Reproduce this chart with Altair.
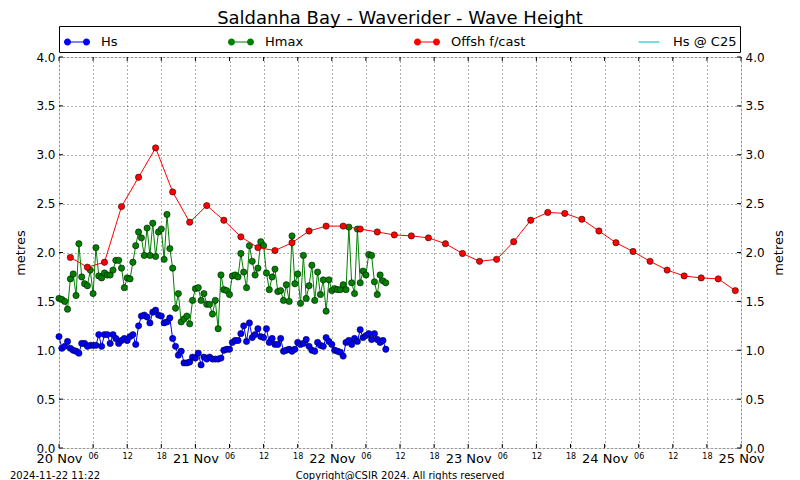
import altair as alt
import pandas as pd

# ---------------- text ----------------
TITLE = "Saldanha Bay - Waverider - Wave Height"
STAMP = "2024-11-22 11:22"
COPYRIGHT = "Copyright@CSIR 2024. All rights reserved"
Y_TITLE = "metres"

# ---------------- time base ----------------
OBS_START = "2024-11-20 00:00"
OBS_STEP = "30min"
FC_START = "2024-11-20 02:00"
FC_STEP = "3h"

# ---------------- observed series (metres) ----------------
HS = [
    1.14, 1.02, 1.04, 1.09, 1.02, 1.00, 0.99, 0.97, 1.07, 1.07, 1.04, 1.05, 1.05, 1.05,
    1.16, 1.04, 1.16, 1.16, 1.07, 1.16, 1.12, 1.07, 1.10, 1.12, 1.10, 1.14, 1.16, 1.06,
    1.25, 1.35, 1.36, 1.34, 1.28, 1.39, 1.41, 1.36, 1.35, 1.28, 1.29, 1.33, 1.12, 1.04,
    0.95, 0.99, 0.87, 0.87, 0.88, 0.93, 0.92, 0.97, 0.85, 0.93, 0.91, 0.93, 0.91, 0.91, 0.91,
    0.92, 1.00, 1.01, 1.01, 1.08, 1.10, 1.10, 1.17, 1.25, 1.09, 1.28, 1.13, 1.16, 1.22,
    1.14, 1.13, 1.22, 1.08, 1.12, 1.06, 1.06, 1.12, 0.99, 1.00, 1.01, 0.99, 1.01, 1.08, 1.06,
    1.07, 1.11, 1.04, 1.00, 0.99, 1.08, 1.05, 1.04, 1.13, 1.09, 1.06, 1.00, 0.99, 0.98, 0.94,
    1.08, 1.10, 1.06, 1.12, 1.09, 1.21, 1.13, 1.15, 1.17, 1.11, 1.17, 1.11, 1.08, 1.10, 1.01,
]
HMAX = [
    1.53, 1.52, 1.50, 1.42, 1.73, 1.78, 1.56, 2.09, 1.75, 1.68, 1.66, 1.82, 1.58, 2.05,
    1.76, 1.74, 1.79, 1.77, 1.77, 1.82, 1.92, 1.92, 1.84, 1.64, 1.74, 1.73, 1.90, 2.07,
    2.21, 2.15, 1.97, 2.25, 1.97, 2.30, 1.96, 2.21, 2.24, 1.93, 2.39, 2.04, 1.84, 1.43,
    1.58, 1.29, 1.32, 1.35, 1.27, 1.51, 1.63, 1.64, 1.51, 1.58, 1.47, 1.47, 1.37, 1.51, 1.22,
    1.77, 1.62, 1.61, 1.57, 1.76, 1.77, 1.75, 1.99, 1.80, 1.64, 2.07, 1.91, 1.77, 1.84,
    2.11, 2.07, 1.79, 1.62, 1.75, 1.83, 1.60, 1.61, 1.51, 1.67, 1.50, 2.17, 1.68, 1.78, 1.48,
    1.97, 1.53, 1.66, 1.87, 1.51, 1.80, 1.57, 1.72, 1.40, 1.72, 1.61, 1.63, 1.62, 1.62, 1.67,
    1.62, 2.26, 1.69, 1.58, 2.24, 1.69, 1.81, 1.77, 1.98, 1.97, 1.70, 1.57, 1.77, 1.71, 1.69,
]

# ---------------- offshore forecast (3-hourly) ----------------
FCAST = [
    1.95, 1.85, 1.90, 2.47, 2.77, 3.07, 2.62, 2.31, 2.48, 2.33,
    2.16, 2.05, 2.02, 2.10, 2.22, 2.27, 2.27, 2.24, 2.21, 2.18,
    2.17, 2.15, 2.09, 1.99, 1.91, 1.93, 2.11, 2.33, 2.41, 2.40,
    2.34, 2.22, 2.10, 2.01, 1.91, 1.82, 1.76, 1.74, 1.73, 1.61,
]

# ---------------- legend / axes ----------------
SERIES = ["Hs", "Hmax", "Offsh f/cast", "Hs @ C25"]
COLORS = ["#0000ff", "#008000", "#ff0000", "#00bfbf"]
DAY_LABELS = ["20 Nov", "21 Nov", "22 Nov", "23 Nov", "24 Nov", "25 Nov"]
HOUR_LABELS = ["06", "12", "18"]
X_TICKS_H = list(range(0, 121, 6))
Y_TICKS = [0.0, 0.5, 1.0, 1.5, 2.0, 2.5, 3.0, 3.5, 4.0]

W, H = 682, 391
FONT = "DejaVu Sans"

# ---------------- tables ----------------
t0 = pd.Timestamp(OBS_START)
obs_t = pd.date_range(OBS_START, periods=len(HS), freq=OBS_STEP)
obs = pd.DataFrame({
    "hour": (obs_t - t0) / pd.Timedelta(hours=1),
    "Hs": HS,
    "Hmax": HMAX,
})
fc_t = pd.date_range(FC_START, periods=len(FCAST), freq=FC_STEP)
fc = pd.DataFrame({"hour": (fc_t - t0) / pd.Timedelta(hours=1), "value": FCAST})

xs = alt.Scale(domain=[0, 120], nice=False, zero=False)
ys = alt.Scale(domain=[0, 4], nice=False, zero=False)

day_js = "[" + ",".join(repr(d) for d in DAY_LABELS) + "]"
hr_js = "[" + ",".join(repr(h) for h in [""] + HOUR_LABELS) + "]"
label_expr = (
    f"datum.value % 24 == 0 ? {day_js}[datum.value / 24] : {hr_js}[(datum.value % 24) / 6]"
)

x_axis = alt.Axis(
    values=X_TICKS_H, labelExpr=label_expr,
    labelFontSize={"condition": {"test": "datum.value % 24 == 0", "value": 13}, "value": 8},
    labelFont=FONT, labelColor="black", labelPadding=4, labelFlush=False,
    labelOverlap=False, labelBaseline="top", tickSize=0, domain=False,
    grid=True, gridColor="black", gridDash=[1, 3], gridWidth=0.8, gridOpacity=0.8,
    title=None,
)


def y_axis(orient, grid, pad):
    return alt.Axis(
        orient=orient, values=Y_TICKS, format=".1f", labelFont=FONT, labelFontSize=12,
        labelColor="black", labelPadding=4, tickSize=0, domain=False,
        grid=grid, gridColor="black", gridDash=[1, 3], gridWidth=0.8, gridOpacity=0.8,
        title=Y_TITLE, titleFont=FONT, titleFontSize=13, titleFontWeight="normal",
        titleColor="black", titlePadding=pad, titleAngle=270,
    )


X = alt.X("hour:Q", scale=xs, axis=x_axis)

base_obs = alt.Chart(obs)
hs_line = base_obs.mark_line(color=COLORS[0], strokeWidth=1).encode(
    x=X, y=alt.Y("Hs:Q", scale=ys, axis=y_axis("left", True, 8)))
hs_pts = base_obs.mark_point(filled=True, fill=COLORS[0], stroke="black", strokeWidth=0.5,
                             size=40, opacity=1).encode(
    x=X, y=alt.Y("Hs:Q", scale=ys, axis=None))
hm_line = base_obs.mark_line(color=COLORS[1], strokeWidth=1).encode(
    x=X, y=alt.Y("Hmax:Q", scale=ys, axis=None))
hm_pts = base_obs.mark_point(filled=True, fill=COLORS[1], stroke="black", strokeWidth=0.5,
                             size=40, opacity=1).encode(
    x=X, y=alt.Y("Hmax:Q", scale=ys, axis=None))
fc_line = alt.Chart(fc).mark_line(color=COLORS[2], strokeWidth=1).encode(
    x=X, y=alt.Y("value:Q", scale=ys, axis=y_axis("right", False, 21)))
fc_pts = alt.Chart(fc).mark_point(filled=True, fill=COLORS[2], stroke="black", strokeWidth=0.5,
                                  size=40, opacity=1).encode(
    x=X, y=alt.Y("value:Q", scale=ys, axis=None))

# inward tick marks
xt = alt.Chart(pd.DataFrame({"hour": X_TICKS_H}))
tick_b = xt.mark_rule(color="black", strokeWidth=1).encode(
    x=X, y=alt.value(H), y2=alt.value(H - 4))
tick_t = xt.mark_rule(color="black", strokeWidth=1).encode(
    x=X, y=alt.value(0), y2=alt.value(4))
yt = alt.Chart(pd.DataFrame({"m": Y_TICKS}))
tick_l = yt.mark_rule(color="black", strokeWidth=1).encode(
    y=alt.Y("m:Q", scale=ys, axis=None), x=alt.value(0), x2=alt.value(4))
tick_r = yt.mark_rule(color="black", strokeWidth=1).encode(
    y=alt.Y("m:Q", scale=ys, axis=None), x=alt.value(W - 4), x2=alt.value(W))

# legend
PATH_DOTS = ("M-1,-0.04H1V0.04H-1Z "
             "M-1,0A0.27,0.27 0 1,1 -0.46,0A0.27,0.27 0 1,1 -1,0Z "
             "M0.46,0A0.27,0.27 0 1,1 1,0A0.27,0.27 0 1,1 0.46,0Z")
PATH_LINE = "M-0.8,-0.04H0.8V0.04H-0.8Z"
SHAPES = [PATH_DOTS, PATH_DOTS, PATH_DOTS, PATH_LINE]

leg = alt.Legend(
    orient="none", legendX=0, legendY=-31, direction="horizontal", columns=4,
    title=None, columnPadding=108, symbolSize=676, symbolStrokeWidth=0,
    symbolOffset=2,
    labelFont=FONT, labelFontSize=13, labelColor="black", labelOffset=11,
    padding=3, strokeColor="black", fillColor="white", cornerRadius=0,
)
legend_layer = alt.Chart(pd.DataFrame({"series": SERIES})).mark_point(
    filled=True, clip=True, opacity=1).encode(
    x=alt.value(-100), y=alt.value(-100),
    color=alt.Color("series:N", scale=alt.Scale(domain=SERIES, range=COLORS), legend=leg),
    shape=alt.Shape("series:N", scale=alt.Scale(domain=SERIES, range=SHAPES), legend=leg),
)

# footer
foot_l = alt.Chart(pd.DataFrame({"t": [STAMP]})).mark_text(
    align="left", baseline="middle", font=FONT, fontSize=10, color="black").encode(
    text="t:N", x=alt.value(-49), y=alt.value(H + 28))
foot_c = alt.Chart(pd.DataFrame({"t": [COPYRIGHT]})).mark_text(
    align="center", baseline="middle", font=FONT, fontSize=10, color="black").encode(
    text="t:N", x=alt.value(W / 2), y=alt.value(H + 28))

chart = alt.layer(
    hs_line, tick_b, tick_t, tick_l, tick_r,
    hs_pts, hm_line, hm_pts, fc_line, fc_pts,
    legend_layer, foot_l, foot_c,
).resolve_axis(y="independent").properties(
    width=W, height=H,
    padding={"left": 51, "top": 49, "right": 51, "bottom": 32},
    autosize=alt.AutoSizeParams(type="none"),
    title=alt.TitleParams(TITLE, font=FONT, fontSize=18, fontWeight="normal",
                          color="black", anchor="middle", frame="group", offset=-2),
).configure_view(stroke="black", strokeWidth=1).configure(font=FONT, background="white")

chart.save("out.html", embed_options={"renderer": "svg", "actions": False})
